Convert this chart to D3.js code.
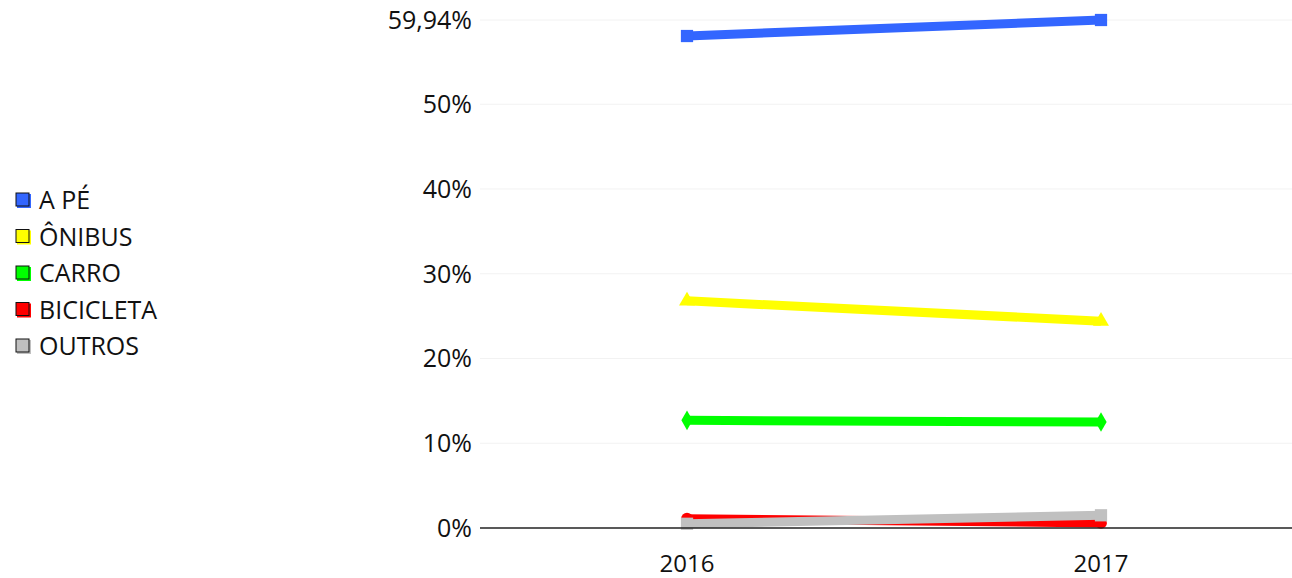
<!DOCTYPE html>
<html>
<head>
<meta charset="utf-8">
<script src="https://cdn.jsdelivr.net/npm/d3@7"></script>
<style>
  body { margin: 0; background: #fff; }
  text { font-family: "Open Sans", "Noto Sans", sans-serif; fill: #111; }
</style>
</head>
<body>
<svg id="chart" width="1292" height="578"></svg>
<script>
const years = ["2016", "2017"];
const seriesNames = ["A PÉ", "ÔNIBUS", "CARRO", "BICICLETA", "OUTROS"];
const colors = ["#3366ff", "#ffff00", "#00ff00", "#ff0000", "#c0c0c0"];
const symbols = [d3.symbolSquare, d3.symbolTriangle, d3.symbolDiamond, d3.symbolCircle, d3.symbolSquare];
const apeValues = [58.05, 59.94];
const onibusValues = [26.8, 24.4];
const carroValues = [12.7, 12.5];
const bicicletaValues = [1.1, 0.6];
const outrosValues = [0.5, 1.5];
const yTicks = [0, 10, 20, 30, 40, 50, 59.94];
const yTickLabels = ["0%", "10%", "20%", "30%", "40%", "50%", "59,94%"];

const values = [apeValues, onibusValues, carroValues, bicicletaValues, outrosValues];
const series = seriesNames.map((name, i) => ({ name, color: colors[i], symbol: symbols[i], values: values[i] }));

const svg = d3.select("#chart");
const plotLeft = 480, plotRight = 1292, plotTop = 20, plotBottom = 528;

const x = d3.scalePoint().domain(years).range([plotLeft, 1308]).padding(0.5);
const y = d3.scaleLinear().domain([0, 59.94]).range([plotBottom, plotTop]);

// gridlines
svg.append("g").selectAll("line").data(yTicks.slice(1)).join("line")
    .attr("x1", plotLeft).attr("x2", plotRight)
    .attr("y1", d => y(d)).attr("y2", d => y(d))
    .attr("stroke", "#f2f2f2").attr("stroke-width", 1);

// y axis labels
svg.append("g").selectAll("text").data(yTicks).join("text")
    .attr("x", 472).attr("y", d => y(d)).attr("dy", "0.36em")
    .attr("text-anchor", "end").style("font-size", "25px")
    .text((d, i) => yTickLabels[i]);

// x axis labels
svg.append("g").selectAll("text").data(years).join("text")
    .attr("x", d => x(d)).attr("y", 572)
    .attr("text-anchor", "middle").style("font-size", "24px")
    .text(d => d);

const line = d3.line().x((d, i) => x(years[i])).y(d => y(d));

const g = svg.append("g");
series.forEach(s => {
    g.append("path").datum(s.values).attr("d", line)
        .attr("fill", "none").attr("stroke", s.color).attr("stroke-width", 9);
    g.selectAll(null).data(s.values).join("path")
        .attr("transform", (d, i) => `translate(${x(years[i])},${y(d)})`)
        .attr("d", d3.symbol().type(s.symbol).size(s.symbol === d3.symbolSquare ? 150 : 110))
        .attr("fill", s.color);
});

// baseline
svg.append("line").attr("x1", plotLeft).attr("x2", plotRight).attr("y1", plotBottom).attr("y2", plotBottom)
    .attr("stroke", "#222").attr("stroke-width", 1.3);

// legend
const legend = svg.append("g").attr("transform", "translate(16, 200)");
series.forEach((s, i) => {
    const row = legend.append("g").attr("transform", `translate(0, ${i * 36.5})`);
    row.append("rect").attr("x", 1).attr("y", -6).attr("width", 14).attr("height", 14).attr("fill", s.color);
    row.append("rect").attr("x", 0).attr("y", -7).attr("width", 13).attr("height", 13)
        .attr("fill", s.color).attr("stroke", "#111").attr("stroke-width", 1);
    row.append("text").attr("x", 23).attr("y", 0).attr("dy", "0.36em")
        .style("font-size", "25px").text(s.name);
});
</script>
</body>
</html>
